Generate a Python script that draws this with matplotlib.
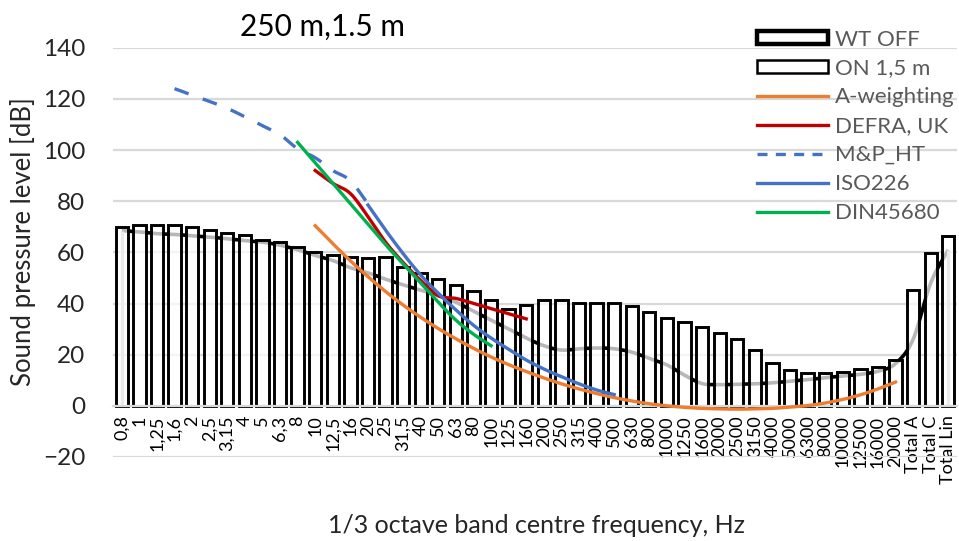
"""Sound pressure level spectrum at 250 m, 1.5 m height, with hearing thresholds."""

import matplotlib

matplotlib.use("Agg")
import matplotlib.pyplot as plt
import numpy as np
from matplotlib.lines import Line2D
from matplotlib.patches import Patch, Rectangle
from matplotlib.transforms import blended_transform_factory

plt.rcParams["font.family"] = ["Lato", "DejaVu Sans"]

# ---------------------------------------------------------------- data
bands = [
    "0,8", "1", "1,25", "1,6", "2", "2,5", "3,15", "4", "5", "6,3",
    "8", "10", "12,5", "16", "20", "25", "31,5", "40", "50", "63",
    "80", "100", "125", "160", "200", "250", "315", "400", "500", "630",
    "800", "1000", "1250", "1600", "2000", "2500", "3150", "4000", "5000", "6300",
    "8000", "10000", "12500", "16000", "20000", "Total A", "Total C", "Total Lin",
]

on_15m = [
    70, 70.5, 70.5, 70.5, 70, 68.8, 67.6, 66.7, 64.9, 63.9,
    62, 60.3, 59, 58.3, 57.8, 58.3, 54.1, 52, 49.6, 47.2,
    45, 41.5, 37.8, 39.5, 41.3, 41.3, 40.3, 40.3, 40.3, 39.1,
    36.6, 34.5, 32.8, 30.9, 28.6, 26.3, 21.8, 16.9, 13.9, 12.8,
    12.8, 13.3, 14.5, 15.3, 18.0, 45.2, 59.9, 66.3,
]

wt_off = [
    68.5, 68, 67.3, 67, 66.5, 66, 65.3, 64.6, 64, 62.8,
    61, 58.8, 56.8, 54, 52, 49.5, 47.3, 45.2, 43.2, 40.5,
    37, 33.5, 30, 26.5, 23.5, 21.8, 22.3, 22.6, 22.3, 21,
    18.5, 16, 12, 8.7, 8.3, 8.4, 8.6, 9, 9.6, 10.2,
    11, 11.6, 12.3, 13.5, 16.5, 26, 48, 61,
]

# (first band, values)
a_weighting_start = "10"
a_weighting = [
    70.4, 63.4, 56.7, 50.5, 44.7, 39.4, 34.6, 30.2, 26.2, 22.5,
    19.1, 16.1, 13.4, 10.9, 8.6, 6.6, 4.8, 3.2, 1.9, 0.8,
    0.0, -0.6, -1.0, -1.2, -1.3, -1.2, -1.0, -0.5, 0.1, 1.1,
    2.5, 4.3, 6.6, 9.3,
]

defra_start = "10"
defra = [92, 87, 83, 74, 64, 56, 49, 43, 42, 40, 38, 36, 34]

mp_ht_start = "1,6"
mp_ht = [124, 121.5, 119, 116.3, 113, 109.5, 106, 100.5, 97, 92, 88, 79]

iso226_start = "20"
iso226 = [78.5, 68.7, 59.5, 51.1, 44.0, 37.5, 31.5, 26.5, 22.1, 17.9,
          14.4, 11.4, 8.6, 6.2, 4.4]

din45680_start = "8"
din45680 = [103, 95, 87, 79, 71, 63, 55.5, 48, 40.5, 33.5, 28, 23.5]


# ---------------------------------------------------------------- helpers
def smooth(x, y, steps=16):
    """Catmull-Rom curve through the points (like a smoothed spreadsheet line)."""
    x = np.asarray(x, dtype=float)
    y = np.asarray(y, dtype=float)
    if len(x) < 3:
        return x, y
    px = np.concatenate([[2 * x[0] - x[1]], x, [2 * x[-1] - x[-2]]])
    py = np.concatenate([[2 * y[0] - y[1]], y, [2 * y[-1] - y[-2]]])
    t = np.linspace(0, 1, steps, endpoint=False)
    out_x, out_y = [], []
    for i in range(1, len(px) - 2):
        for p, out in ((px, out_x), (py, out_y)):
            p0, p1, p2, p3 = p[i - 1], p[i], p[i + 1], p[i + 2]
            out.extend(
                0.5 * ((2 * p1) + (-p0 + p2) * t
                       + (2 * p0 - 5 * p1 + 4 * p2 - p3) * t ** 2
                       + (-p0 + 3 * p1 - 3 * p2 + p3) * t ** 3)
            )
    out_x.append(x[-1])
    out_y.append(y[-1])
    return np.array(out_x), np.array(out_y)


def positions(start, values):
    first = bands.index(start)
    return np.arange(first, first + len(values))


# ---------------------------------------------------------------- figure
fig = plt.figure(figsize=(9.59, 5.41), dpi=100)
ax = fig.add_axes([0.1178, 0.1553, 0.8802, 0.7565])

x = np.arange(len(bands))
grid_grey = "#d9d9d9"

ax.set_xlim(-0.5, len(bands) - 0.5)
ax.set_ylim(-20, 140)
ax.set_yticks(np.arange(-20, 141, 20))
ax.yaxis.grid(True, color=grid_grey, linewidth=1.6, zorder=0)
ax.set_axisbelow(True)
for side in ["top", "right", "left"]:
    ax.spines[side].set_visible(False)
ax.spines["bottom"].set_position(("data", 0))
ax.spines["bottom"].set_color(grid_grey)
ax.spines["bottom"].set_linewidth(1.6)

# white panel behind the legend hides the gridlines there
blend = blended_transform_factory(ax.transAxes, ax.transData)
ax.add_patch(Rectangle((0.669, 71), 0.34, 80, transform=blend,
                       facecolor="white", edgecolor="none", zorder=0.5,
                       clip_on=False))

# WT OFF: black smoothed line seen through the semi-transparent ON bars
sx, sy = smooth(x, wt_off)
ax.plot(sx, sy, color="black", linewidth=2.6, zorder=1, solid_capstyle="butt")
ax.vlines([x[0], x[-1]], 0, [wt_off[0], wt_off[-1]], color="#b5b5b5",
          linewidth=2.4, zorder=1)

ax.bar(x, on_15m, width=0.7, facecolor=(1, 1, 1, 0.72), edgecolor="black",
       linewidth=2.1, zorder=2)

curves = [
    (a_weighting_start, a_weighting, "#ed7d31", "-"),
    (defra_start, defra, "#c00000", "-"),
    (mp_ht_start, mp_ht, "#4472c4", (0, (4.5, 4.5))),
    (iso226_start, iso226, "#4472c4", "-"),
    (din45680_start, din45680, "#00b050", "-"),
]
for start, values, color, style in curves:
    cx, cy = smooth(positions(start, values), values)
    ax.plot(cx, cy, color=color, linestyle=style, linewidth=2.4, zorder=3)

# ticks
ax.set_xticks(x)
ax.set_xticklabels(bands, rotation=90, fontsize=13, color="black")
ax.tick_params(axis="x", length=0, pad=7)
ax.tick_params(axis="y", length=0, pad=20, labelsize=17.5, labelcolor="#262626")

fig.text(0.024, 0.554, "Sound pressure level [dB]", rotation=90,
         ha="center", va="center", fontsize=18.5, color="#262626")
fig.text(0.559, 0.028, "1/3 octave band centre frequency, Hz",
         ha="center", va="center", fontsize=18, color="#262626")
fig.text(0.336, 0.950, "250 m,1.5 m", ha="center", va="center",
         fontsize=21.5, color="black")

handles = [
    Patch(facecolor="white", edgecolor="black", linewidth=3.2),
    Patch(facecolor="white", edgecolor="black", linewidth=1.8),
    Line2D([], [], color="#ed7d31", linewidth=2.4),
    Line2D([], [], color="#c00000", linewidth=2.4),
    Line2D([], [], color="#4472c4", linewidth=2.4, linestyle=(0, (3, 2.5))),
    Line2D([], [], color="#4472c4", linewidth=2.4),
    Line2D([], [], color="#00b050", linewidth=2.4),
]
labels = ["WT OFF", "ON 1,5 m", "A-weighting", "DEFRA, UK", "M&P_HT",
          "ISO226", "DIN45680"]
leg = fig.legend(handles, labels, loc="upper left",
                 bbox_to_anchor=(0.7775, 0.966), frameon=False,
                 fontsize=16, handlelength=3.2, handleheight=0.55,
                 handletextpad=0.3, labelspacing=0.4, borderpad=0)
for text in leg.get_texts():
    text.set_color("#595959")

fig.savefig("out.png", dpi=100)
